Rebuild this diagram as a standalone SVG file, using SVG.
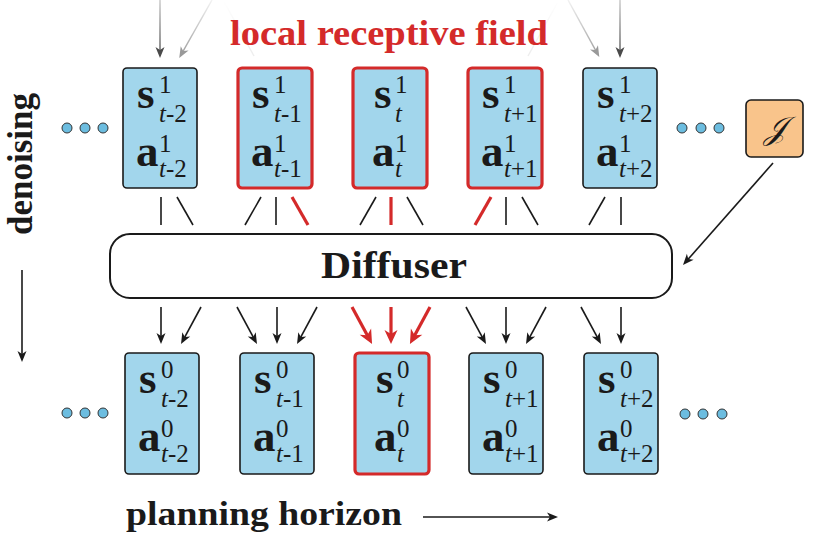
<svg xmlns="http://www.w3.org/2000/svg" width="815" height="540" viewBox="0 0 815 540">
<style>
.bx{fill:#a2d6ec;stroke:#1a1a1a;stroke-width:1.6}
.rb{fill:#a2d6ec;stroke:#d42a2a;stroke-width:3.2}
.b{font-weight:bold;font-size:45px;fill:#1a1a1a}
.sc{font-size:25px;fill:#1a1a1a}
.it{font-style:italic}
.dot{fill:#6cbde0;stroke:#333;stroke-width:1}
.ln{stroke:#1a1a1a;stroke-width:1.6;fill:none}
.rl{stroke:#d42a2a;stroke-width:3.2;fill:none}
.lab{font-weight:bold;fill:#1a1a1a}
</style>
<defs>
<marker id="ah" viewBox="-7 -6 13 12" refX="0" refY="0" markerWidth="13" markerHeight="12" markerUnits="userSpaceOnUse" orient="auto">
<path d="M5,0 L-6,-4.5 L-3,0 L-6,4.5 Z" fill="#1a1a1a"/>
</marker>
<marker id="ahr" viewBox="-9 -8 16 16" refX="0" refY="0" markerWidth="16" markerHeight="16" markerUnits="userSpaceOnUse" orient="auto">
<path d="M6,0 L-8,-6.5 L-4,0 L-8,6.5 Z" fill="#d42a2a"/>
</marker>
<marker id="ahg1" viewBox="-7 -6 13 12" refX="0" refY="0" markerWidth="13" markerHeight="12" markerUnits="userSpaceOnUse" orient="auto">
<path d="M5,0 L-6,-4.5 L-3,0 L-6,4.5 Z" fill="#4a4a4a"/>
</marker>
<marker id="ahg2" viewBox="-7 -6 13 12" refX="0" refY="0" markerWidth="13" markerHeight="12" markerUnits="userSpaceOnUse" orient="auto">
<path d="M5,0 L-6,-4.5 L-3,0 L-6,4.5 Z" fill="#999"/>
</marker>
<linearGradient id="g1" gradientUnits="userSpaceOnUse" x1="0" y1="0" x2="0" y2="58">
<stop offset="0" stop-color="#c8c8c8"/><stop offset="1" stop-color="#4a4a4a"/>
</linearGradient>
<linearGradient id="g2" gradientUnits="userSpaceOnUse" x1="0" y1="0" x2="0" y2="58">
<stop offset="0" stop-color="#f2f2f2"/><stop offset="1" stop-color="#999"/>
</linearGradient>
<linearGradient id="g3" gradientUnits="userSpaceOnUse" x1="0" y1="0" x2="0" y2="58">
<stop offset="0" stop-color="#ffffff"/><stop offset="1" stop-color="#ececec"/>
</linearGradient>
</defs>

<g id="connectors">
<line x1="223" y1="0" x2="254" y2="56" stroke="url(#g3)" stroke-width="1.4"/>
<line x1="559" y1="0" x2="528" y2="56" stroke="url(#g3)" stroke-width="1.4"/>
<line x1="160" y1="0" x2="160" y2="53" stroke="url(#g1)" stroke-width="1.4" marker-end="url(#ahg1)"/>
<line x1="212" y1="0" x2="181.7" y2="53.6" stroke="url(#g2)" stroke-width="1.4" marker-end="url(#ahg2)"/>
<line x1="620" y1="0" x2="620" y2="53" stroke="url(#g1)" stroke-width="1.4" marker-end="url(#ahg1)"/>
<line x1="568" y1="0" x2="596.9" y2="52.6" stroke="url(#g2)" stroke-width="1.4" marker-end="url(#ahg2)"/>

<line class="ln" x1="161" y1="197" x2="161" y2="225"/>
<line class="ln" x1="177" y1="197" x2="193" y2="225"/>
<line class="ln" x1="261" y1="197" x2="245" y2="225"/>
<line class="ln" x1="276" y1="197" x2="276" y2="225"/>
<line class="rl" x1="292" y1="197" x2="308" y2="225"/>
<line class="ln" x1="376" y1="197" x2="360" y2="225"/>
<line class="rl" x1="391" y1="197" x2="391" y2="225"/>
<line class="ln" x1="407" y1="197" x2="423" y2="225"/>
<line class="rl" x1="491" y1="197" x2="475" y2="225"/>
<line class="ln" x1="506" y1="197" x2="506" y2="225"/>
<line class="ln" x1="522" y1="197" x2="538" y2="225"/>
<line class="ln" x1="605" y1="197" x2="589" y2="225"/>
<line class="ln" x1="621" y1="197" x2="621" y2="225"/>

<line class="ln" x1="161" y1="307" x2="161" y2="339" marker-end="url(#ah)"/>
<line class="ln" x1="201" y1="307" x2="183.4" y2="339.6" marker-end="url(#ah)"/>
<line class="ln" x1="237" y1="307" x2="254.6" y2="339.6" marker-end="url(#ah)"/>
<line class="ln" x1="277" y1="307" x2="277" y2="339" marker-end="url(#ah)"/>
<line class="ln" x1="317" y1="307" x2="299.4" y2="339.6" marker-end="url(#ah)"/>
<line class="rl" x1="352" y1="307" x2="369.2" y2="338.7" marker-end="url(#ahr)"/>
<line class="rl" x1="391" y1="307" x2="391" y2="338" marker-end="url(#ahr)"/>
<line class="rl" x1="430" y1="307" x2="412.8" y2="338.7" marker-end="url(#ahr)"/>
<line class="ln" x1="466" y1="307" x2="483.6" y2="339.6" marker-end="url(#ah)"/>
<line class="ln" x1="506" y1="307" x2="506" y2="339" marker-end="url(#ah)"/>
<line class="ln" x1="546" y1="307" x2="528.4" y2="339.6" marker-end="url(#ah)"/>
<line class="ln" x1="581" y1="307" x2="598.6" y2="339.6" marker-end="url(#ah)"/>
<line class="ln" x1="621" y1="307" x2="621" y2="339" marker-end="url(#ah)"/>

<line class="ln" x1="773" y1="163" x2="686.3" y2="261.3" marker-end="url(#ah)"/>

<line class="ln" x1="22" y1="270" x2="22" y2="357" marker-end="url(#ah)"/>
<line class="ln" x1="423" y1="517" x2="553" y2="517" marker-end="url(#ah)"/>
</g>

<text x="230" y="45" font-family="Liberation Serif, serif" font-weight="bold" font-size="35" fill="#d42a2a" textLength="318" lengthAdjust="spacingAndGlyphs">local receptive field</text>

<g id="dots-top-left"><circle class="dot" cx="67" cy="128" r="5"/><circle class="dot" cx="85" cy="128" r="5"/><circle class="dot" cx="103" cy="128" r="5"/></g>
<g id="dots-top-right"><circle class="dot" cx="682" cy="128" r="5"/><circle class="dot" cx="701" cy="128" r="5"/><circle class="dot" cx="719" cy="128" r="5"/></g>
<g id="dots-bottom-left"><circle class="dot" cx="67" cy="413" r="5"/><circle class="dot" cx="85" cy="413" r="5"/><circle class="dot" cx="103" cy="413" r="5"/></g>
<g id="dots-bottom-right"><circle class="dot" cx="685" cy="414" r="5"/><circle class="dot" cx="703" cy="414" r="5"/><circle class="dot" cx="722" cy="414" r="5"/></g>

<g font-family="Liberation Serif, serif">
<g id="n1-tm2">
<rect class="bx" x="123" y="68" width="74" height="120" rx="4"/>
<text class="b" x="137" y="108">s</text><text class="sc" x="159" y="93">1</text><text class="sc" x="159" y="122"><tspan class="it">t</tspan>-2</text>
<text class="b" x="136" y="166">a</text><text class="sc" x="159" y="152">1</text><text class="sc" x="159" y="177"><tspan class="it">t</tspan>-2</text>
</g>
<g id="n1-tm1">
<rect class="rb" x="238" y="68" width="74" height="120" rx="4"/>
<text class="b" x="252" y="108">s</text><text class="sc" x="274" y="93">1</text><text class="sc" x="274" y="122"><tspan class="it">t</tspan>-1</text>
<text class="b" x="251" y="166">a</text><text class="sc" x="274" y="152">1</text><text class="sc" x="274" y="177"><tspan class="it">t</tspan>-1</text>
</g>
<g id="n1-t">
<rect class="rb" x="353" y="68" width="74" height="120" rx="4"/>
<text class="b" x="374" y="108">s</text><text class="sc" x="395" y="93">1</text><text class="sc it" x="395" y="122">t</text>
<text class="b" x="372" y="166">a</text><text class="sc" x="395" y="152">1</text><text class="sc it" x="395" y="177">t</text>
</g>
<g id="n1-tp1">
<rect class="rb" x="468" y="68" width="74" height="120" rx="4"/>
<text class="b" x="482" y="108">s</text><text class="sc" x="504" y="93">1</text><text class="sc" x="504" y="122"><tspan class="it">t</tspan>+1</text>
<text class="b" x="481" y="166">a</text><text class="sc" x="504" y="152">1</text><text class="sc" x="504" y="177"><tspan class="it">t</tspan>+1</text>
</g>
<g id="n1-tp2">
<rect class="bx" x="583" y="68" width="74" height="120" rx="4"/>
<text class="b" x="597" y="108">s</text><text class="sc" x="619" y="93">1</text><text class="sc" x="619" y="122"><tspan class="it">t</tspan>+2</text>
<text class="b" x="596" y="166">a</text><text class="sc" x="619" y="152">1</text><text class="sc" x="619" y="177"><tspan class="it">t</tspan>+2</text>
</g>

<g id="diffuser">
<rect x="110" y="234" width="562" height="64" rx="20" fill="#fff" stroke="#1a1a1a" stroke-width="2"/>
<text class="lab" x="321" y="278" font-size="38" textLength="146" lengthAdjust="spacingAndGlyphs">Diffuser</text>
</g>

<g id="n0-tm2">
<rect class="bx" x="125" y="353" width="74" height="121" rx="4"/>
<text class="b" x="139" y="393">s</text><text class="sc" x="161" y="378">0</text><text class="sc" x="161" y="407"><tspan class="it">t</tspan>-2</text>
<text class="b" x="138" y="451">a</text><text class="sc" x="161" y="437">0</text><text class="sc" x="161" y="462"><tspan class="it">t</tspan>-2</text>
</g>
<g id="n0-tm1">
<rect class="bx" x="240" y="353" width="74" height="121" rx="4"/>
<text class="b" x="254" y="393">s</text><text class="sc" x="276" y="378">0</text><text class="sc" x="276" y="407"><tspan class="it">t</tspan>-1</text>
<text class="b" x="253" y="451">a</text><text class="sc" x="276" y="437">0</text><text class="sc" x="276" y="462"><tspan class="it">t</tspan>-1</text>
</g>
<g id="n0-t">
<rect class="rb" x="355" y="353" width="74" height="121" rx="4"/>
<text class="b" x="376" y="393">s</text><text class="sc" x="397" y="378">0</text><text class="sc it" x="397" y="407">t</text>
<text class="b" x="374" y="451">a</text><text class="sc" x="397" y="437">0</text><text class="sc it" x="397" y="462">t</text>
</g>
<g id="n0-tp1">
<rect class="bx" x="469" y="353" width="74" height="121" rx="4"/>
<text class="b" x="483" y="393">s</text><text class="sc" x="505" y="378">0</text><text class="sc" x="505" y="407"><tspan class="it">t</tspan>+1</text>
<text class="b" x="482" y="451">a</text><text class="sc" x="505" y="437">0</text><text class="sc" x="505" y="462"><tspan class="it">t</tspan>+1</text>
</g>
<g id="n0-tp2">
<rect class="bx" x="584" y="353" width="74" height="121" rx="4"/>
<text class="b" x="598" y="393">s</text><text class="sc" x="620" y="378">0</text><text class="sc" x="620" y="407"><tspan class="it">t</tspan>+2</text>
<text class="b" x="597" y="451">a</text><text class="sc" x="620" y="437">0</text><text class="sc" x="620" y="462"><tspan class="it">t</tspan>+2</text>
</g>

<text class="lab" transform="rotate(-90)" x="-235" y="32" font-size="35" textLength="142" lengthAdjust="spacingAndGlyphs">denoising</text>
<text class="lab" x="126" y="525" font-size="34" textLength="276" lengthAdjust="spacingAndGlyphs">planning horizon</text>
</g>

<g id="J">
<rect x="746" y="100" width="57" height="57" rx="5" fill="#f9c48b" stroke="#1a1a1a" stroke-width="1.6"/>
<text x="774.5" y="139" text-anchor="middle" font-family="DejaVu Serif, DejaVu Sans, serif" font-style="italic" font-size="32" fill="#1a1a1a">𝒥</text>
</g>
</svg>
